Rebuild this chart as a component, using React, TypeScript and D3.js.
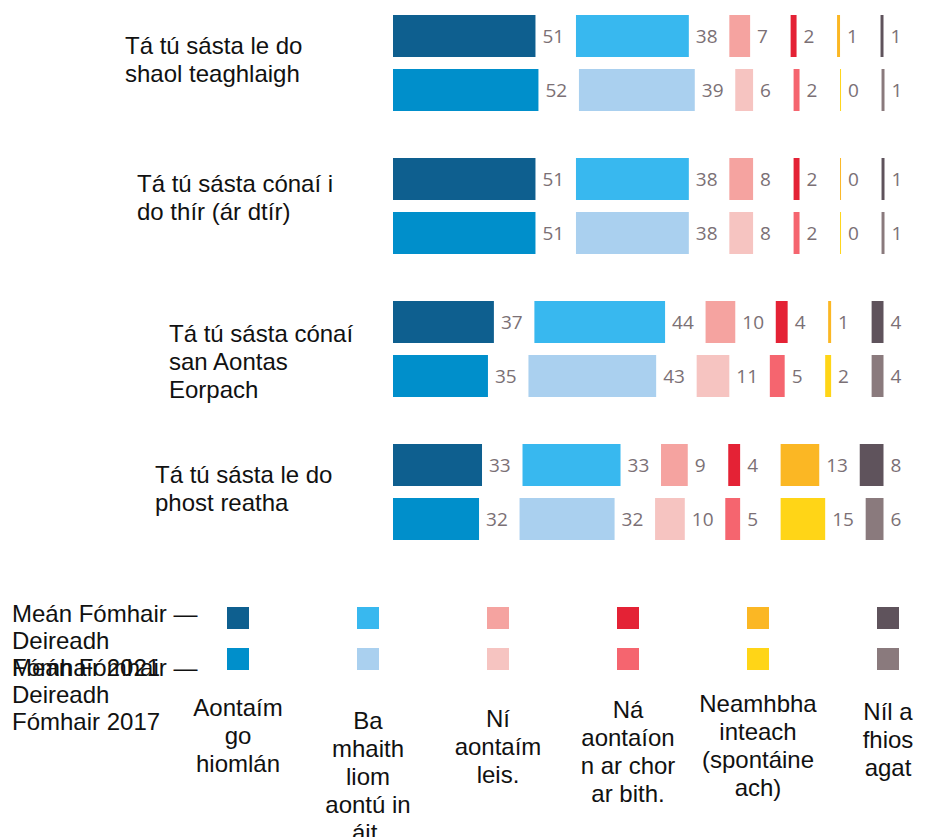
import React from "react";
import * as d3 from "d3";

const categories: string[][] = [
  ["Tá tú sásta le do", "shaol teaghlaigh"],
  ["Tá tú sásta cónaí i", "do thír (ár dtír)"],
  ["Tá tú sásta cónaí", "san Aontas", "Eorpach"],
  ["Tá tú sásta le do", "phost reatha"],
];
const values2021: number[][] = [
  [51, 38, 7, 2, 1, 1],
  [51, 38, 8, 2, 0, 1],
  [37, 44, 10, 4, 1, 4],
  [33, 33, 9, 4, 13, 8],
];
const values2017: number[][] = [
  [52, 39, 6, 2, 0, 1],
  [51, 38, 8, 2, 0, 1],
  [35, 43, 11, 5, 2, 4],
  [32, 32, 10, 5, 15, 6],
];
const seriesNames: string[][] = [
  ["Meán Fómhair —", "Deireadh", "Fómhair 2021"],
  ["Meán Fómhair —", "Deireadh", "Fómhair 2017"],
];
const answerLabels: string[][] = [
  ["Aontaím", "go", "hiomlán"],
  ["Ba", "mhaith", "liom", "aontú in", "áit."],
  ["Ní", "aontaím", "leis."],
  ["Ná", "aontaíon", "n ar chor", "ar bith."],
  ["Neamhbha", "inteach", "(spontáine", "ach)"],
  ["Níl a", "fhios", "agat"],
];
const colors2021 = ["#0e5f8f", "#38b8ef", "#f5a3a0", "#e42235", "#fbb724", "#5f535c"];
const colors2017 = ["#008fcb", "#aad0ef", "#f6c4c1", "#f5656f", "#ffd517", "#8a7a7d"];

// layout
const catLabelPos = [
  { x: 125, y: 54 },
  { x: 137, y: 192 },
  { x: 169, y: 342 },
  { x: 155, y: 483 },
];
const answerBaselines = [716, 729, 727, 718, 712, 720];

export default function App() {
  const W = 938, H = 837;
  const x = d3.scaleLinear().domain([0, 100]).range([0, 297]);
  const groupY = d3.scaleLinear().domain([0, 1]).range([15, 158]);
  const barH = 42;
  const origin = 384;
  const clipLeft = 393;
  const gap = 40.5;
  const labelFont = "'Liberation Sans', Arial, sans-serif";
  const numFont = "'Open Sans', 'DejaVu Sans', sans-serif";
  const labelSize = 24;

  const rows: JSX.Element[] = [];
  categories.forEach((_, gi) => {
    [values2021[gi], values2017[gi]].forEach((vals, si) => {
      const y = groupY(gi) + si * 54;
      const cols = si === 0 ? colors2021 : colors2017;
      let start = clipLeft;
      vals.forEach((v, ci) => {
        let bx: number, bw: number, end: number;
        if (ci === 0) {
          end = origin + x(v);
          bx = clipLeft;
          bw = end - clipLeft;
        } else {
          bx = start;
          bw = Math.max(x(v), 1);
          end = bx + bw;
        }
        rows.push(
          <rect key={`r${gi}-${si}-${ci}`} x={bx} y={y} width={bw} height={barH} fill={cols[ci]} />
        );
        rows.push(
          <text
            key={`t${gi}-${si}-${ci}`}
            x={end + 7}
            y={y + barH / 2}
            dominantBaseline="central"
            fontFamily={numFont}
            fontSize={19}
            fill="#7b7075"
          >
            {v}
          </text>
        );
        start = end + gap;
      });
    });
  });

  return (
    <svg
      width={W}
      height={H}
      style={{ position: "absolute", left: 0, top: 0, background: "#fff" }}
    >
      {rows}
      {categories.map((lines, gi) => (
        <text
          key={`c${gi}`}
          x={catLabelPos[gi].x}
          y={catLabelPos[gi].y}
          fontFamily={labelFont}
          fontSize={labelSize}
          fill="#111"
        >
          {lines.map((l, li) => (
            <tspan key={li} x={catLabelPos[gi].x} dy={li === 0 ? 0 : 28}>
              {l}
            </tspan>
          ))}
        </text>
      ))}
      {seriesNames.map((lines, si) =>
        lines.map((l, li) => (
          <text
            key={`s${si}-${li}`}
            x={12}
            y={622 + si * 54 + li * 27}
            fontFamily={labelFont}
            fontSize={labelSize}
            fill="#111"
          >
            {l}
          </text>
        ))
      )}
      {answerLabels.map((lines, ci) => {
        const cx = 238 + ci * 130;
        return (
          <g key={`a${ci}`}>
            <rect x={cx - 11} y={607} width={22} height={22} fill={colors2021[ci]} />
            <rect x={cx - 11} y={648} width={22} height={22} fill={colors2017[ci]} />
            <text
              x={cx}
              y={answerBaselines[ci]}
              textAnchor="middle"
              fontFamily={labelFont}
              fontSize={labelSize}
              fill="#111"
            >
              {lines.map((l, li) => (
                <tspan key={li} x={cx} dy={li === 0 ? 0 : 28}>
                  {l}
                </tspan>
              ))}
            </text>
          </g>
        );
      })}
    </svg>
  );
}
